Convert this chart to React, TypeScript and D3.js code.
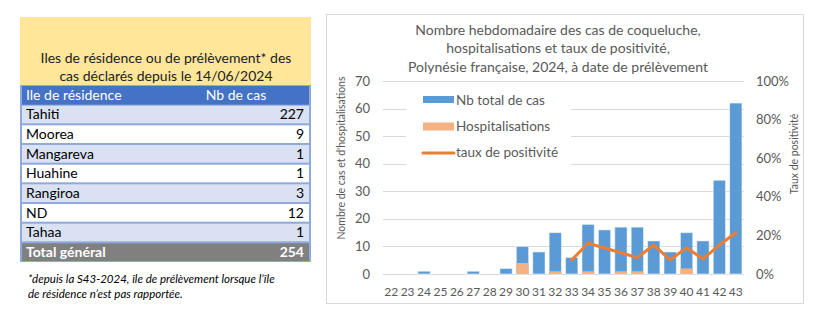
import React from 'react';
import * as d3 from 'd3';

const weeks = ['22','23','24','25','26','27','28','29','30','31','32','33','34','35','36','37','38','39','40','41','42','43'];
const totalCases = [0,0,1,0,0,1,0,2,10,8,15,6,18,16,17,17,12,8,15,12,34,62];
const hospitalisations = [0,0,0,0,0,0,0,0,4,0,1,0,1,0,1,1,0,0,2,0,0,0];
const positivity: (number | null)[] = [null,null,null,null,null,null,null,null,null,null,null,0.073,0.159,0.135,0.11,0.085,0.15,0.073,0.136,0.078,0.15,0.214];
const leftTicks = [0,10,20,30,40,50,60,70];
const rightTicks = [0,0.2,0.4,0.6,0.8,1.0];

const islands = ['Tahiti','Moorea','Mangareva','Huahine','Rangiroa','ND','Tahaa'];
const islandCases = [227,9,1,1,3,12,1];
const totalLabel = 'Total général';
const totalValue = 254;

const FONT = 'Lato, "Open Sans", sans-serif';
const GREY = '#595959';

export default function App() {
  const x = d3.scaleBand<string>().domain(weeks).range([383, 744]).paddingInner(0.25).paddingOuter(0.125);
  const y = d3.scaleLinear().domain([0, 70]).range([274, 81]);
  const yr = d3.scaleLinear().domain([0, 1]).range([274, 81]);
  const pct = d3.format('.0%');
  const lineData = weeks.map((w, i) => ({ w, v: positivity[i] }));
  const line = d3.line<{ w: string; v: number | null }>()
    .defined(d => d.v !== null)
    .x(d => (x(d.w) as number) + x.bandwidth() / 2)
    .y(d => yr(d.v as number));

  // table geometry
  const tx0 = 20, tx1 = 311;
  const rowY = d3.scaleLinear().domain([0, 9]).range([85, 262]);
  const rowsAll = islands.map((n, i) => ({ n, v: islandCases[i] }));

  return (
    <div style={{ position: 'absolute', left: 0, top: 0 }}>
      <svg width={828} height={324} style={{ display: 'block' }}>
        <rect x={0} y={0} width={828} height={324} fill="#fff" />
        {/* TABLE */}
        <rect x={tx0} y={17} width={tx1 - tx0} height={68} fill="#FFE699" />
        <text x={166} y={63} textAnchor="middle" fontFamily={FONT} fontSize={14} fill="#222">Iles de résidence ou de prélèvement* des</text>
        <text x={166} y={81} textAnchor="middle" fontFamily={FONT} fontSize={14} fill="#222">cas déclarés depuis le 14/06/2024</text>
        <rect x={tx0} y={85} width={tx1 - tx0} height={177} fill="#8EA9DB" />
        <rect x={tx0 + 2} y={rowY(0) + 1} width={tx1 - tx0 - 4} height={rowY(1) - rowY(0) - 1} fill="#4472C4" />
        <text x={26} y={rowY(1) - 5} fontFamily={FONT} fontSize={14} fill="#fff">Ile de résidence</text>
        <text x={236} y={rowY(1) - 5} textAnchor="middle" fontFamily={FONT} fontSize={14} fill="#fff">Nb de cas</text>
        {rowsAll.map((r, i) => (
          <g key={r.n}>
            <rect x={tx0 + 2} y={rowY(i + 1) + 1} width={tx1 - tx0 - 4} height={rowY(i + 2) - rowY(i + 1) - 2} fill={i % 2 === 0 ? '#D9E1F2' : '#fff'} />
            <text x={26} y={rowY(i + 2) - 5} fontFamily={FONT} fontSize={14} fill="#000">{r.n}</text>
            <text x={304} y={rowY(i + 2) - 5} textAnchor="end" fontFamily={FONT} fontSize={14} fill="#000">{r.v}</text>
          </g>
        ))}
        <rect x={tx0 + 2} y={rowY(8) + 1} width={tx1 - tx0 - 4} height={rowY(9) - rowY(8) - 2} fill="#808080" />
        <text x={26} y={rowY(9) - 5} fontFamily={FONT} fontSize={14} fontWeight="bold" fill="#fff">{totalLabel}</text>
        <text x={304} y={rowY(9) - 5} textAnchor="end" fontFamily={FONT} fontSize={14} fontWeight="bold" fill="#fff">{totalValue}</text>
        <text x={28} y={283} fontFamily={FONT} fontSize={11.5} fontStyle="italic" fill="#000">*depuis la S43-2024, île de prélèvement lorsque l’île</text>
        <text x={28} y={298} fontFamily={FONT} fontSize={11.5} fontStyle="italic" fill="#000">de résidence n’est pas rapportée.</text>

        {/* CHART */}
        <rect x={326.5} y={14.5} width={477} height={289} fill="#fff" stroke="#D9D9D9" />
        <text textAnchor="middle" fontFamily={FONT} fontSize={14} fill={GREY}>
          <tspan x={558} y={35}>Nombre hebdomadaire des cas de coqueluche,</tspan>
          <tspan x={558} y={53}>hospitalisations et taux de positivité,</tspan>
          <tspan x={558} y={72}>Polynésie française, 2024, à date de prélèvement</tspan>
        </text>
        {leftTicks.map(t => (
          <g key={t}>
            <line x1={383} x2={744} y1={Math.round(y(t)) + 0.5} y2={Math.round(y(t)) + 0.5} stroke="#D9D9D9" />
            <text x={370} y={y(t) + 4.5} textAnchor="end" fontFamily={FONT} fontSize={13} fill={GREY}>{t}</text>
          </g>
        ))}
        {rightTicks.map(t => (
          <text key={t} x={756} y={yr(t) + 4.5} fontFamily={FONT} fontSize={13} fill={GREY}>{pct(t)}</text>
        ))}
        <text transform={`translate(345,${158}) rotate(-90)`} textAnchor="middle" fontFamily={FONT} fontSize={10.5} fill={GREY}>Nombre de cas et d'hospitalisations</text>
        <text transform={`translate(798,${154}) rotate(-90)`} textAnchor="middle" fontFamily={FONT} fontSize={10.5} fill={GREY}>Taux de positivité</text>

        {/* legend background */}
        <rect x={406} y={88} width={165} height={80} fill="#fff" />
        <rect x={423} y={96} width={31} height={7} fill="#5B9BD5" />
        <text x={456} y={105} fontFamily={FONT} fontSize={13.5} fill={GREY}>Nb total de cas</text>
        <rect x={423} y={122.5} width={31} height={8} fill="#F4B183" />
        <text x={456} y={131} fontFamily={FONT} fontSize={13.5} fill={GREY}>Hospitalisations</text>
        <line x1={423} x2={454} y1={153} y2={153} stroke="#ED7D31" strokeWidth={3} strokeLinecap="round" />
        <text x={456} y={157} fontFamily={FONT} fontSize={13.5} fill={GREY}>taux de positivité</text>

        {weeks.map((w, i) => totalCases[i] > 0 ? (
          <rect key={'b' + w} x={x(w)} y={y(totalCases[i])} width={x.bandwidth()} height={y(0) - y(totalCases[i])} fill="#5B9BD5" stroke="#ffffff" strokeOpacity={0.5} strokeWidth={1} />
        ) : null)}
        {weeks.map((w, i) => hospitalisations[i] > 0 ? (
          <rect key={'h' + w} x={x(w)} y={y(hospitalisations[i])} width={x.bandwidth()} height={y(0) - y(hospitalisations[i])} fill="#F4B183" />
        ) : null)}
        <path d={line(lineData) || ''} fill="none" stroke="#ED7D31" strokeWidth={3} strokeLinejoin="round" strokeLinecap="round" />
        {weeks.map(w => (
          <text key={'x' + w} x={(x(w) as number) + x.bandwidth() / 2} y={296} textAnchor="middle" fontFamily={FONT} fontSize={12} fill={GREY}>{w}</text>
        ))}
      </svg>
    </div>
  );
}
